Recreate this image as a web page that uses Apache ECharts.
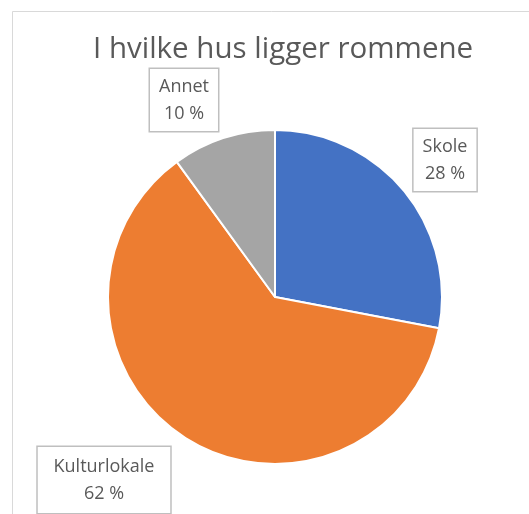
<!DOCTYPE html>
<html>
<head>
<meta charset="utf-8">
<script src="https://cdn.jsdelivr.net/npm/echarts@6/dist/echarts.min.js"></script>
<style>
  html, body { margin: 0; padding: 0; background: #fff; }
  #main { width: 529px; height: 514px; }
</style>
</head>
<body>
<div id="main"></div>
<script>
// data
var categories = ['Skole', 'Kulturlokale', 'Annet']
var values = [28, 62, 10]
var colors = ['#4472C4', '#ED7D31', '#A5A5A5']

// where the callout boxes sit (box centre)
var labelPos = [[445, 160], [104, 480], [184, 100]]
var labelPad = [[4, 9], [6, 25], [4, 9]]

var chart = echarts.init(document.getElementById('main'))

var pieData = categories.map(function (name, i) {
  return {
    name: name,
    value: values[i],
    itemStyle: { color: colors[i] },
    label: { padding: labelPad[i] }
  }
})

var option = {
  backgroundColor: '#fff',
  title: {
    text: 'I hvilke hus ligger rommene',
    left: 88,
    top: 30,
    textStyle: {
      fontFamily: 'Open Sans',
      fontSize: 29.5,
      fontWeight: 'normal',
      color: '#595959'
    }
  },
  graphic: [{
    type: 'rect',
    shape: { x: 12.5, y: 11.5, width: 600, height: 600 },
    style: { fill: 'none', stroke: '#D9D9D9', lineWidth: 1 },
    silent: true,
    z: -1
  }],
  series: [{
    type: 'pie',
    center: [275, 297],
    radius: 167,
    startAngle: 90,
    clockwise: true,
    animation: false,
    itemStyle: {
      borderColor: '#fff',
      borderWidth: 2
    },
    label: {
      show: true,
      formatter: '{b}\n{c} %',
      fontFamily: 'Open Sans',
      fontSize: 18,
      lineHeight: 27,
      overflow: 'none',
      color: '#595959',
      backgroundColor: '#fff',
      borderColor: '#BFBFBF',
      borderWidth: 1.5
    },
    labelLine: { show: false },
    labelLayout: function (params) {
      var p = labelPos[params.dataIndex]
      return { x: p[0], y: p[1], align: 'center', verticalAlign: 'middle' }
    },
    data: pieData
  }]
}

chart.setOption(option)
</script>
</body>
</html>
